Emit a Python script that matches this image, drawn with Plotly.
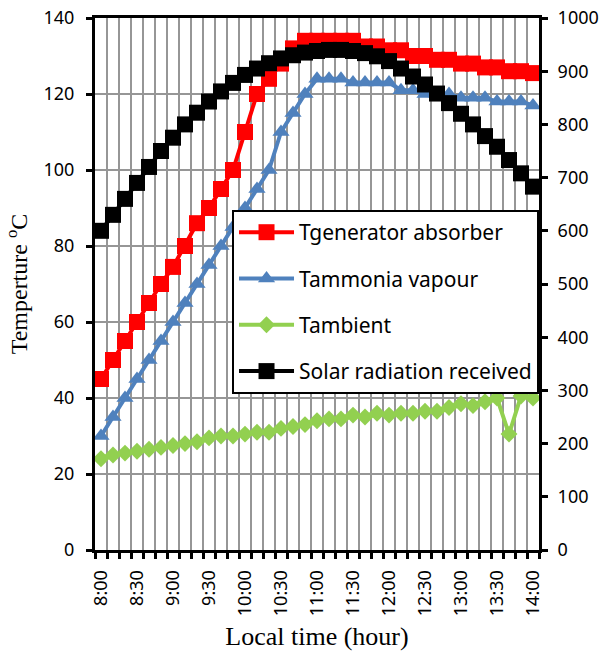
import plotly.graph_objects as go

# ---- data ----
times = ["8:00", "8:10", "8:20", "8:30", "8:40", "8:50", "9:00", "9:10", "9:20", "9:30",
         "9:40", "9:50", "10:00", "10:10", "10:20", "10:30", "10:40", "10:50", "11:00",
         "11:10", "11:20", "11:30", "11:40", "11:50", "12:00", "12:10", "12:20", "12:30",
         "12:40", "12:50", "13:00", "13:10", "13:20", "13:30", "13:40", "13:50", "14:00"]

t_generator = [45, 50, 55, 60, 65, 70, 74.5, 80, 86, 90, 95, 100, 110, 120, 124, 128, 132,
               134, 134, 134, 134, 134, 132.5, 132.5, 131.5, 131.5, 130, 130, 129, 129,
               128, 128, 127, 127, 126, 126, 125.5]

t_ammonia = [30, 35, 40, 45, 50, 55, 60, 65, 70, 75, 80, 85, 90, 95, 100, 110, 115, 120,
             124, 124, 124, 123, 123, 123, 123, 121, 121, 120, 120, 120, 119, 119, 119,
             118, 118, 118, 117]

t_ambient = [24, 25, 25.5, 26, 26.5, 27, 27.5, 28, 28.5, 29.5, 30, 30, 30.5, 31, 31, 32,
             32.5, 33, 34, 34.5, 34.5, 35.5, 35, 36, 35.5, 36, 36, 36.5, 36.5, 37.5, 38.5,
             38, 39, 40, 30.5, 40.5, 40]

solar = [600, 630, 660, 690, 720, 750, 775, 800, 822, 843, 862, 878, 893, 905, 915, 924,
         930, 935, 938, 940, 940, 938, 934, 928, 919, 905, 890, 875, 858, 840, 820, 800,
         778, 758, 733, 708, 683]

label_every = 3

# ---- figure ----
idx = list(range(len(times)))
tick_pos = idx[::label_every]
tick_txt = times[::label_every]
boundaries = [i - 0.5 for i in range(len(times) + 1)]

TICK_FONT = dict(family="Noto Sans", size=18, color="black")
SERIF = "Liberation Serif"
GRID = "#969696"

fig = go.Figure()
fig.add_trace(go.Scatter(
    x=idx, y=t_generator, name="Tgenerator absorber", mode="lines+markers",
    line=dict(color="#FF0000", width=4),
    marker=dict(symbol="square", size=16, color="#FF0000"),
    legendgroup="g1", cliponaxis=False))
fig.add_trace(go.Scatter(
    x=idx, y=t_ammonia, name="Tammonia vapour", mode="lines+markers",
    line=dict(color="#4F81BD", width=4),
    marker=dict(symbol="triangle-up", size=15, color="#4F81BD"),
    legendgroup="g2", cliponaxis=False))
fig.add_trace(go.Scatter(
    x=idx, y=t_ambient, name="Tambient", mode="lines+markers",
    line=dict(color="#92D050", width=4),
    marker=dict(symbol="diamond", size=13, color="#92D050"),
    legendgroup="g3", cliponaxis=False))
fig.add_trace(go.Scatter(
    x=idx, y=solar, name="Solar radiation received", mode="lines+markers",
    line=dict(color="#000000", width=4),
    marker=dict(symbol="square", size=16, color="#000000"),
    legendgroup="g4", yaxis="y2", cliponaxis=False))

fig.update_layout(
    width=607, height=652,
    margin=dict(l=95, r=68, t=18, b=102, autoexpand=False),
    paper_bgcolor="white", plot_bgcolor="white",
    showlegend=True,
    xaxis=dict(
        range=[-0.5, len(times) - 0.5], automargin=False,
        tickmode="array", tickvals=tick_pos, ticktext=tick_txt,
        tickangle=-90, ticks="", showgrid=False, zeroline=False,
        showline=True, linewidth=3, linecolor="black", mirror=True,
        tickfont=TICK_FONT, ticklabelstandoff=10,
        minor=dict(tickmode="array", tickvals=boundaries, showgrid=True,
                   gridcolor=GRID, gridwidth=2, ticks="outside", ticklen=6,
                   tickwidth=3, tickcolor="black"),
        title=dict(text="Local time (hour)",
                   font=dict(family=SERIF, size=26, color="black"), standoff=12),
    ),
    yaxis=dict(
        range=[0, 140], tickmode="linear", tick0=0, dtick=20, automargin=False,
        showgrid=True, gridcolor=GRID, gridwidth=2, zeroline=False,
        ticks="outside", ticklen=6, tickwidth=3, tickcolor="black",
        showline=True, linewidth=3, linecolor="black",
        tickfont=TICK_FONT, ticklabelstandoff=8,
        title=dict(text="Temperture <sup>o</sup>C",
                   font=dict(family=SERIF, size=24, color="black"), standoff=10),
    ),
    yaxis2=dict(
        range=[0, 1000], tickmode="linear", tick0=0, dtick=100, automargin=False,
        overlaying="y", side="right", showgrid=False, zeroline=False,
        ticks="outside", ticklen=6, tickwidth=3, tickcolor="black",
        showline=True, linewidth=3, linecolor="black",
        tickfont=TICK_FONT, ticklabelstandoff=6,
    ),
    legend=dict(
        x=0.3086, y=0.639, xanchor="left", yanchor="top",
        bgcolor="white", bordercolor="black", borderwidth=2,
        font=dict(family="Noto Sans", size=21, color="black"),
        traceorder="grouped", tracegroupgap=16, itemwidth=55,
    ),
)

fig.write_html("out.html")
